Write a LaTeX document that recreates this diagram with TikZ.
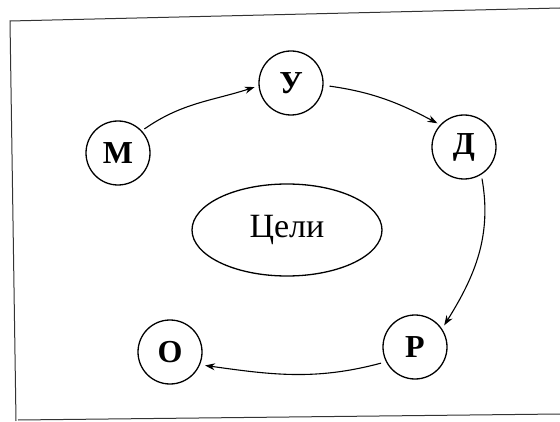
\documentclass[tikz,border=0pt]{standalone}
\usepackage{fontspec}
\setmainfont{Liberation Serif}
\usetikzlibrary{arrows.meta,shapes.geometric}
\begin{document}
\begin{tikzpicture}[x=1pt,y=1pt,
  letter/.style={circle,draw,line width=1.3pt,minimum size=64pt,inner sep=0pt,font=\fontsize{32}{34}\selectfont\bfseries},
  goal/.style={ellipse,draw,line width=1.3pt,minimum width=190pt,minimum height=92pt,inner sep=0pt,font=\fontsize{34}{36}\selectfont},
  link/.style={line width=1.1pt,-{Stealth[length=10pt,width=7pt]}},
  frame/.style={line width=1pt,draw=black!80}]
\fill[white] (0,0) rectangle (560,421);
\useasboundingbox (0,0) rectangle (560,421);
\draw[frame] (560,413) -- (10,400) -- (16,0);
\draw[frame] (18,1) -- (560,7);
\node[letter] (M) at (118,268) {М};
\node[letter] (U) at (291,338) {У};
\node[letter] (D) at (464,274) {Д};
\node[letter] (R) at (415,74) {Р};
\node[letter] (O) at (170,69) {О};
\node[goal] (G) at (287,191) {Цели};
\draw[link,shorten <=3pt,shorten >=4pt] (M.43) to[out=35,in=198] (U.185);
\draw[link,shorten <=6pt,shorten >=3pt] (U.-4) to[out=-8,in=152] (D.137);
\draw[link,shorten <=4pt,shorten >=4pt] (D.-58) to[out=-80,in=58] (R.34);
\draw[link,shorten <=5pt,shorten >=5pt] (R.207) to[out=195,in=-8] (O.337);
\end{tikzpicture}
\end{document}
